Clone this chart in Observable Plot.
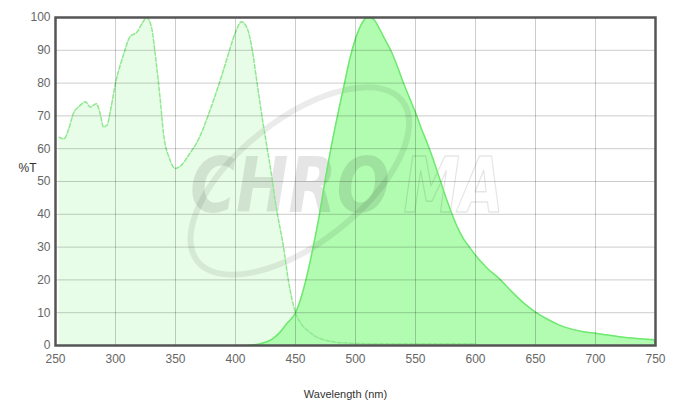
<!DOCTYPE html>
<html>
<head>
<meta charset="utf-8">
<script src="https://cdn.jsdelivr.net/npm/d3@7"></script>
<script src="https://cdn.jsdelivr.net/npm/@observablehq/plot@0.6"></script>
<style>
  html, body { margin: 0; padding: 0; background: #fff; }
  #chart { width: 685px; height: 408px; }
</style>
</head>
<body>
<div id="chart"></div>
<script>
// Excitation spectrum (dashed, light fill)
const exWavelength = [253, 257, 261, 265, 270, 275, 279, 284, 287, 290, 293, 296, 300, 307, 312, 318, 323, 326, 330, 334, 337, 340, 345, 350, 355, 360, 370, 380, 390, 395, 400, 405, 410, 414, 418, 422, 426, 430, 433, 435, 440, 444, 450, 455, 461, 468, 475, 490, 520, 560, 600];
const exValue      = [63.5, 63, 66, 70.8, 73, 74.3, 72.7, 73.7, 71, 66.6, 67.2, 72, 79.9, 89, 94.1, 95.6, 98.7, 100, 97, 86, 76, 64.6, 57, 54, 55, 57.5, 63.5, 73, 84, 90, 95.5, 98.7, 96.5, 90, 80, 70, 61, 52, 44.3, 40, 30, 20, 10, 6.5, 4.3, 2.5, 1.6, 0.8, 0.5, 0.5, 0.5];

// Emission spectrum (solid, stronger fill)
const emWavelength = [410, 420, 430, 437, 443, 450, 455, 460, 465, 470, 475, 480, 485, 490, 495, 500, 505, 510, 515, 520, 525, 530, 535, 540, 545, 550, 555, 560, 565, 570, 575, 580, 585, 590, 595, 600, 610, 620, 630, 640, 650, 660, 670, 680, 690, 700, 710, 720, 730, 740, 748, 750];
const emValue      = [0, 0.5, 1.8, 4, 6.8, 10, 15, 22, 30.5, 40, 51, 61, 70, 78.5, 87, 93.5, 98, 100, 99.5, 96.5, 93, 89.5, 85, 80, 75.5, 71, 66, 61.5, 56.5, 51, 45.5, 40.5, 36, 32.5, 30, 27.5, 23.5, 20.3, 16.5, 13, 10.2, 8, 6.2, 5, 4.2, 3.7, 3.2, 2.7, 2.3, 2, 1.8, 0.6];

const xTicks = [250, 300, 350, 400, 450, 500, 550, 600, 650, 700, 750];
const yTicks = [0, 10, 20, 30, 40, 50, 60, 70, 80, 90, 100];
const xLabel = "Wavelength (nm)";
const yLabel = "%T";
const watermarkSolid = "CHRO";
const watermarkOutline = "MA";

const ex = exWavelength.map((w, i) => ({w, v: exValue[i]}));
const em = emWavelength.map((w, i) => ({w, v: emValue[i]}));

const wmFont = {fontSize: 76, fontWeight: "bold", fontStyle: "italic", textAnchor: "start", fontFamily: "'Liberation Sans Narrow', 'DejaVu Sans Condensed', 'Liberation Sans', Arial, sans-serif"};

const plot = Plot.plot({
  width: 685,
  height: 408,
  marginLeft: 55,
  marginRight: 30,
  marginTop: 17,
  marginBottom: 63,
  style: {fontFamily: "'Liberation Sans', Arial, sans-serif", fontSize: "12px", color: "#666", background: "#fff"},
  x: {domain: [250, 750], ticks: xTicks, tickSize: 0, tickPadding: 9, label: null},
  y: {domain: [0, 100], ticks: yTicks, tickSize: 0, tickPadding: 5, label: null},
  marks: [
    Plot.areaY(ex, {x: "w", y: "v", fill: "#e8fde8", curve: "monotone-x"}),
    Plot.areaY(em, {x: "w", y: "v", fill: "#adfcad", fillOpacity: 0.95, curve: "monotone-x"}),
    Plot.text([watermarkSolid], {x: 362, y: 48, text: d => d, fill: "#000", fillOpacity: 0.1, ...wmFont}),
    Plot.text([watermarkOutline], {x: 540, y: 48, text: d => d, fill: "none", stroke: "#000", strokeOpacity: 0.1, strokeWidth: 1.5, ...wmFont}),
    Plot.line(em, {x: "w", y: "v", stroke: "#6ee86e", strokeWidth: 1.5, curve: "monotone-x"}),
    Plot.line(ex, {x: "w", y: "v", stroke: "#8fe88f", strokeWidth: 1.5, strokeDasharray: "4,2", curve: "monotone-x"}),
    Plot.gridX(xTicks, {stroke: "#000", strokeOpacity: 0.2}),
    Plot.gridY(yTicks, {stroke: "#000", strokeOpacity: 0.2}),
    Plot.frame({stroke: "#555", strokeWidth: 2.5}),
    Plot.axisX(xTicks, {tickSize: 0, tickPadding: 9, fill: "#666", fontSize: 12, label: null}),
    Plot.axisY(yTicks, {tickSize: 0, tickPadding: 5, fill: "#666", fontSize: 12, label: null}),
    Plot.text([yLabel], {frameAnchor: "left", dx: -37, dy: -13, text: d => d, fill: "#333", fontSize: 12}),
    Plot.text([xLabel], {frameAnchor: "bottom", dx: -10, dy: 52, text: d => d, fill: "#333", fontSize: 11})
  ]
});

// Fit the watermark pieces to their widths in the reference
d3.select(plot).selectAll("text").each(function() {
  if (this.textContent === watermarkSolid) d3.select(this).attr("textLength", 200).attr("lengthAdjust", "spacingAndGlyphs");
  if (this.textContent === watermarkOutline) d3.select(this).attr("textLength", 100).attr("lengthAdjust", "spacingAndGlyphs");
});
// Swoosh ring of the watermark
const xs = plot.scale("x"), ys = plot.scale("y");
const cx = xs.apply(454), cy = ys.apply(50);
d3.select(plot).insert("ellipse", "g[aria-label='line']")
  .attr("cx", 0).attr("cy", 0).attr("rx", 130).attr("ry", 62)
  .attr("transform", `translate(${cx},${cy}) rotate(-38)`)
  .attr("fill", "none").attr("stroke", "#000").attr("stroke-opacity", 0.08).attr("stroke-width", 6);

document.getElementById("chart").appendChild(plot);
</script>
</body>
</html>
